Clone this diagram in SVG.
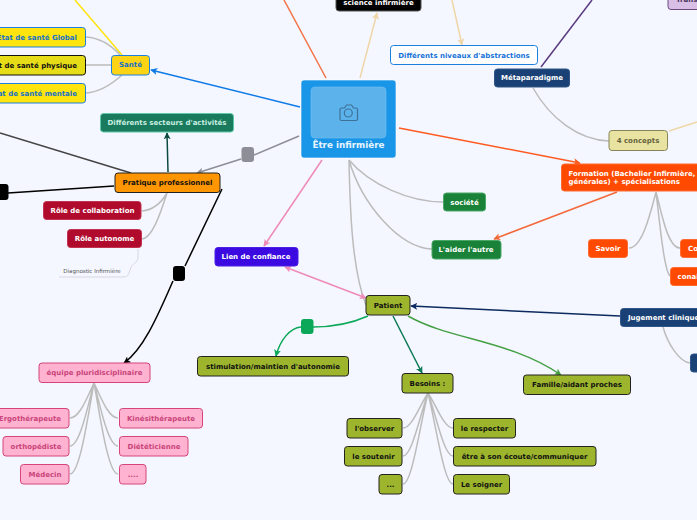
<svg xmlns="http://www.w3.org/2000/svg" width="697" height="520" viewBox="0 0 697 520">
<style>
text{font-family:"DejaVu Sans",sans-serif;font-weight:700;font-size:7px;text-anchor:middle;dominant-baseline:central}
.c{fill:none;stroke-width:1.5}
.g{stroke:#bcbcbc}
.n{stroke-width:1}
.pink{fill:#ffb3d1;stroke:#d6447a}.pink+text{fill:#c9437a}
.olive{fill:#9db52c;stroke:#222}.olive+text{fill:#111}
.red{fill:#b00b2d;stroke:#c2334f}.red+text{fill:#fff}
.orange{fill:#ff4a00;stroke:#ff6a30}.orange+text{fill:#fff}
.navy{fill:#1a4175;stroke:#2f5688}.navy+text{fill:#fff}
.green{fill:#1a8238;stroke:#4aa866}.green+text{fill:#fff}
.yellow{fill:#ffe40d;stroke:#1a80e0}.yellow+text{fill:#1672c8}
</style>
<defs>
<marker id="a" viewBox="0 0 10 10" refX="9" refY="5" markerWidth="7" markerHeight="7" markerUnits="userSpaceOnUse" orient="auto-start-reverse"><path d="M0 0L10 5L0 10L2.5 5Z" fill="context-stroke"/></marker>
</defs>
<rect width="697" height="520" fill="#f4f7ff"/>
<g id="connectors">
<path class="c" stroke="#ffe40d" d="M75 0L122 55"/>
<path class="c g" d="M86 37C100 38 112 46 120 55M86 65H111M86 93C100 92 112 84 122 75"/>
<path class="c" stroke="#0f7ae6" marker-end="url(#a)" d="M300 107L151 70"/>
<path class="c" stroke="#f47246" d="M284 0L326 78"/>
<path class="c" stroke="#efd6a8" marker-end="url(#a)" d="M360 78L377 13"/>
<path class="c" stroke="#efd6a8" marker-end="url(#a)" d="M452 0L462 45"/>
<path class="c" stroke="#5a3a80" d="M592 0L541 67"/>
<path class="c g" d="M533 88C550 118 578 140 609 141"/>
<path class="c" stroke="#efd6a8" d="M669 131L697 122"/>
<path class="c" stroke="#ff5a1f" marker-end="url(#a)" d="M399 128L580 163"/>
<path class="c" stroke="#f4693a" marker-end="url(#a)" d="M617 192L494 239"/>
<path class="c g" d="M656 192C650 215 642 248 629 248M656 192C662 215 668 248 680 248M656 192C660 225 664 270 670 276"/>
<path class="c g" d="M349 160C370 185 410 202 443 202M349 160C362 205 400 248 432 249M349 160C350 210 352 270 366 305"/>
<path class="c" stroke="#f08ab8" marker-end="url(#a)" d="M322 160L264 246"/>
<path class="c" stroke="#f08ab8" marker-start="url(#a)" marker-end="url(#a)" d="M285 267L366 298"/>
<path class="c" stroke="#8e8e96" marker-end="url(#a)" d="M299 136L254 155M241 159L197 173"/>
<path class="c" stroke="#0d4a3e" marker-end="url(#a)" d="M168 172L167 133"/>
<path class="c" stroke="#444" d="M0 133L131 173"/>
<path class="c" stroke="#000" d="M114 186L8 193"/>
<path class="c" stroke="#000" marker-end="url(#a)" d="M222 189L185 266M173 281C160 310 145 348 124 363"/>
<path class="c g" d="M167 193C160 205 152 210 142 211M167 193C160 215 152 238 142 239"/>
<path fill="none" stroke="#d8d8de" d="M138 249V257C138 264 132 262 130 270C128 276 128 277 122 277H59"/>
<path class="c" stroke="#0aa858" marker-end="url(#a)" d="M368 316C350 324 330 327 313 327M301 327C290 328 280 340 276 356"/>
<path class="c" stroke="#0d7a55" marker-end="url(#a)" d="M393 316L422 373"/>
<path class="c" stroke="#45a045" marker-end="url(#a)" d="M408 316C450 340 510 340 561 375"/>
<path class="c" stroke="#0d2a60" marker-end="url(#a)" d="M620 316L411 306"/>
<path class="c g" d="M663 327C668 345 680 362 690 363"/>
<path class="c g" d="M94 383C88 395 80 418 70 418M94 383C88 405 80 446 70 446M94 383C88 415 80 474 70 474M94 383C100 395 108 418 118 418M94 383C100 405 108 446 118 446M94 383C100 415 108 474 118 474"/>
<path class="c g" d="M428 393C420 405 412 428 403 428M428 393C420 415 412 456 403 456M428 393C420 425 412 484 403 484M428 393C436 405 444 428 453 428M428 393C436 415 444 456 453 456M428 393C436 425 444 484 453 484"/>
</g>
<g id="center"><rect x="301" y="80" width="95" height="78" rx="3" fill="#1a96e8" stroke="#fff" stroke-width=".6"/><rect x="311" y="87" width="75" height="51" rx="4" fill="#5cb3ec" stroke="#74bff0" stroke-width=".6"/>
<path d="M341 108h3.500l2-3h5l2 3h2.500a1.500 1.500 0 0 1 1.500 1.500v9.500a1.500 1.500 0 0 1-1.500 1.500h-14.500a1.500 1.500 0 0 1-1.500-1.500v-9.500a1.500 1.500 0 0 1 1.500-1.500z" fill="none" stroke="#3f7196" stroke-width="1.200"/><circle cx="348.300" cy="113" r="4" fill="none" stroke="#3f7196" stroke-width="1.200"/>
<text x="348.500" y="145" fill="#e8f4fd" style="font-size:8.800px">Être infirmière</text></g>
<g id="n-science"><rect x="336" y="-10" width="85" height="21" rx="3" fill="#000" stroke="#555"/><text x="378.500" y="2.500" fill="#fff">science infirmière</text></g>
<g id="n-niveaux"><rect x="390.500" y="45.500" width="147" height="19" rx="3" fill="#fff" stroke="#1a80e0"/><text x="464" y="55.500" fill="#1672d8">Différents niveaux d'abstractions</text></g>
<g id="n-meta"><rect class="navy n" x="494.500" y="69" width="75" height="18" rx="3"/><text x="532" y="78">Métaparadigme</text></g>
<g id="n-trans"><rect x="668" y="-10" width="50" height="19.500" rx="3" fill="#d9bfe6" stroke="#6a4a80"/><text x="676" y="0" fill="#4a3560" style="text-anchor:start">Trans</text></g>
<g id="n-concepts"><rect x="609" y="130.500" width="58.500" height="20" rx="3" fill="#e8e3a0" stroke="#88845a"/><text x="638" y="140.500" fill="#66623e">4 concepts</text></g>
<g id="n-sante"><rect class="n" x="111.500" y="55.500" width="38" height="19.500" rx="3" fill="#fdd316" stroke="#1a80e0"/><text x="130.500" y="65" fill="#1672c8">Santé</text></g>
<g id="n-global"><rect class="yellow n" x="-20" y="27.500" width="105.500" height="19.500" rx="3"/><text x="77" y="37.500" style="text-anchor:end">État de santé Global</text></g>
<g id="n-physique"><rect class="n" x="-20" y="55.500" width="105.500" height="19.500" rx="3" fill="#e6dc18" stroke="#111"/><text x="77" y="65.500" fill="#111" style="text-anchor:end">État de santé physique</text></g>
<g id="n-mentale"><rect class="yellow n" x="-20" y="83.500" width="105.500" height="19.500" rx="3"/><text x="77" y="93.500" style="text-anchor:end">État de santé mentale</text></g>
<g id="n-secteurs"><rect x="100.500" y="113.500" width="133" height="18.500" rx="3" fill="#1a7a5e" stroke="#5ec9a8"/><text x="167" y="123" fill="#c8f0e0">Différents secteurs d'activités</text></g>
<g id="n-gris"><rect x="241.500" y="147" width="12.500" height="15" rx="3" fill="#8e8e96"/></g>
<g id="n-pratique"><rect x="115" y="173" width="105" height="19.500" rx="3" fill="#ff9500" stroke="#222"/><text x="167.500" y="183" fill="#111">Pratique professionnel</text></g>
<g id="n-noir1"><rect x="-4" y="184" width="12.500" height="16" rx="3" fill="#000"/></g>
<g id="n-collab"><rect class="red n" x="43.500" y="201.500" width="97.500" height="18" rx="3"/><text x="92.500" y="211">Rôle de collaboration</text></g>
<g id="n-autonome"><rect class="red n" x="67.500" y="229.500" width="74" height="18" rx="3"/><text x="104.500" y="239">Rôle autonome</text></g>
<g id="n-diag"><text x="92" y="271" fill="#555" style="font-size:5.500px;font-weight:400">Diagnostic Infirmière</text></g>
<g id="n-noir2"><rect x="173" y="266" width="12" height="15" rx="3" fill="#000"/></g>
<g id="n-lien"><rect x="215" y="247.500" width="83" height="18.500" rx="3" fill="#3a0ae0" stroke="#4a20e8"/><text x="256" y="257" fill="#fff">Lien de confiance</text></g>
<g id="n-societe"><rect class="green n" x="443.500" y="193" width="42" height="18" rx="3"/><text x="464.500" y="202.500">société</text></g>
<g id="n-aider"><rect class="green n" x="432" y="240.500" width="69" height="18.500" rx="3"/><text x="466" y="249.500">L'aider l'autre</text></g>
<g id="n-formation"><rect class="orange n" x="561.500" y="164" width="150" height="27" rx="3"/><text x="568.500" y="173.500" fill="#fff" style="text-anchor:start">Formation (Bachelier Infirmière,</text><text x="568.500" y="181.500" fill="#fff" style="text-anchor:start">générales) + spécialisations</text></g>
<g id="n-savoir"><rect class="orange n" x="588.500" y="239.500" width="39" height="18" rx="3"/><text x="608" y="248.500">Savoir</text></g>
<g id="n-co"><rect class="orange n" x="680.500" y="239.500" width="40" height="18" rx="3"/><text x="688" y="248.500" style="text-anchor:start">Co</text></g>
<g id="n-conal"><rect class="orange n" x="670.500" y="267.500" width="60" height="18" rx="3"/><text x="677.500" y="276.500" style="text-anchor:start">conai</text></g>
<g id="n-jugement"><rect class="navy n" x="620.500" y="308.500" width="90" height="18" rx="3"/><text x="628" y="317.500" style="text-anchor:start">Jugement clinique</text></g>
<g id="n-bleu"><rect class="navy n" x="690.500" y="354" width="30" height="18" rx="3"/></g>
<g id="n-patient"><rect class="olive n" x="366" y="295.500" width="44" height="19.500" rx="3"/><text x="388" y="305.500">Patient</text></g>
<g id="n-vert"><rect x="301" y="319" width="12.500" height="15" rx="3" fill="#0aa858"/></g>
<g id="n-stim"><rect class="olive n" x="197.500" y="356.500" width="151" height="19.500" rx="3"/><text x="273" y="366.500">stimulation/maintien d'autonomie</text></g>
<g id="n-besoins"><rect class="olive n" x="402" y="373.500" width="51" height="19.500" rx="3"/><text x="427.500" y="383.500">Besoins :</text></g>
<g id="n-famille"><rect class="olive n" x="523.500" y="375" width="107" height="19.500" rx="3"/><text x="577" y="384.500">Famille/aidant proches</text></g>
<g id="n-observer"><rect class="olive n" x="347" y="418.500" width="55" height="19.500" rx="3"/><text x="374.500" y="428.500">l'observer</text></g>
<g id="n-soutenir"><rect class="olive n" x="344.500" y="446.500" width="57.500" height="19.500" rx="3"/><text x="373.500" y="456.500">le soutenir</text></g>
<g id="n-dots"><rect class="olive n" x="379" y="474.500" width="23" height="19.500" rx="3"/><text x="390.500" y="484.500">...</text></g>
<g id="n-respecter"><rect class="olive n" x="453.500" y="418.500" width="62" height="19.500" rx="3"/><text x="484.500" y="428.500">le respecter</text></g>
<g id="n-ecoute"><rect class="olive n" x="453.500" y="446.500" width="142.500" height="19.500" rx="3"/><text x="524.500" y="456.500">être à son écoute/communiquer</text></g>
<g id="n-soigner"><rect class="olive n" x="453.500" y="474.500" width="56" height="19.500" rx="3"/><text x="481.500" y="484.500">Le soigner</text></g>
<g id="n-equipe"><rect class="pink n" x="39" y="363" width="111" height="19.500" rx="3"/><text x="94.500" y="373">équipe pluridisciplinaire</text></g>
<g id="n-ergo"><rect class="pink n" x="-10" y="408.500" width="79" height="19.500" rx="3"/><text x="61" y="418.500" style="text-anchor:end">Ergothérapeute</text></g>
<g id="n-ortho"><rect class="pink n" x="3" y="436.500" width="66" height="19.500" rx="3"/><text x="36" y="446.500">orthopédiste</text></g>
<g id="n-medecin"><rect class="pink n" x="20.500" y="464.500" width="48.500" height="19.500" rx="3"/><text x="45" y="474.500">Médecin</text></g>
<g id="n-kine"><rect class="pink n" x="119.500" y="408.500" width="83" height="19.500" rx="3"/><text x="161" y="418.500">Kinésithérapeute</text></g>
<g id="n-diet"><rect class="pink n" x="119.500" y="436.500" width="68.500" height="19.500" rx="3"/><text x="154" y="446.500">Diététicienne</text></g>
<g id="n-pdots"><rect class="pink n" x="119.500" y="464.500" width="26.500" height="19.500" rx="3"/><text x="133" y="474.500">....</text></g>
</svg>
